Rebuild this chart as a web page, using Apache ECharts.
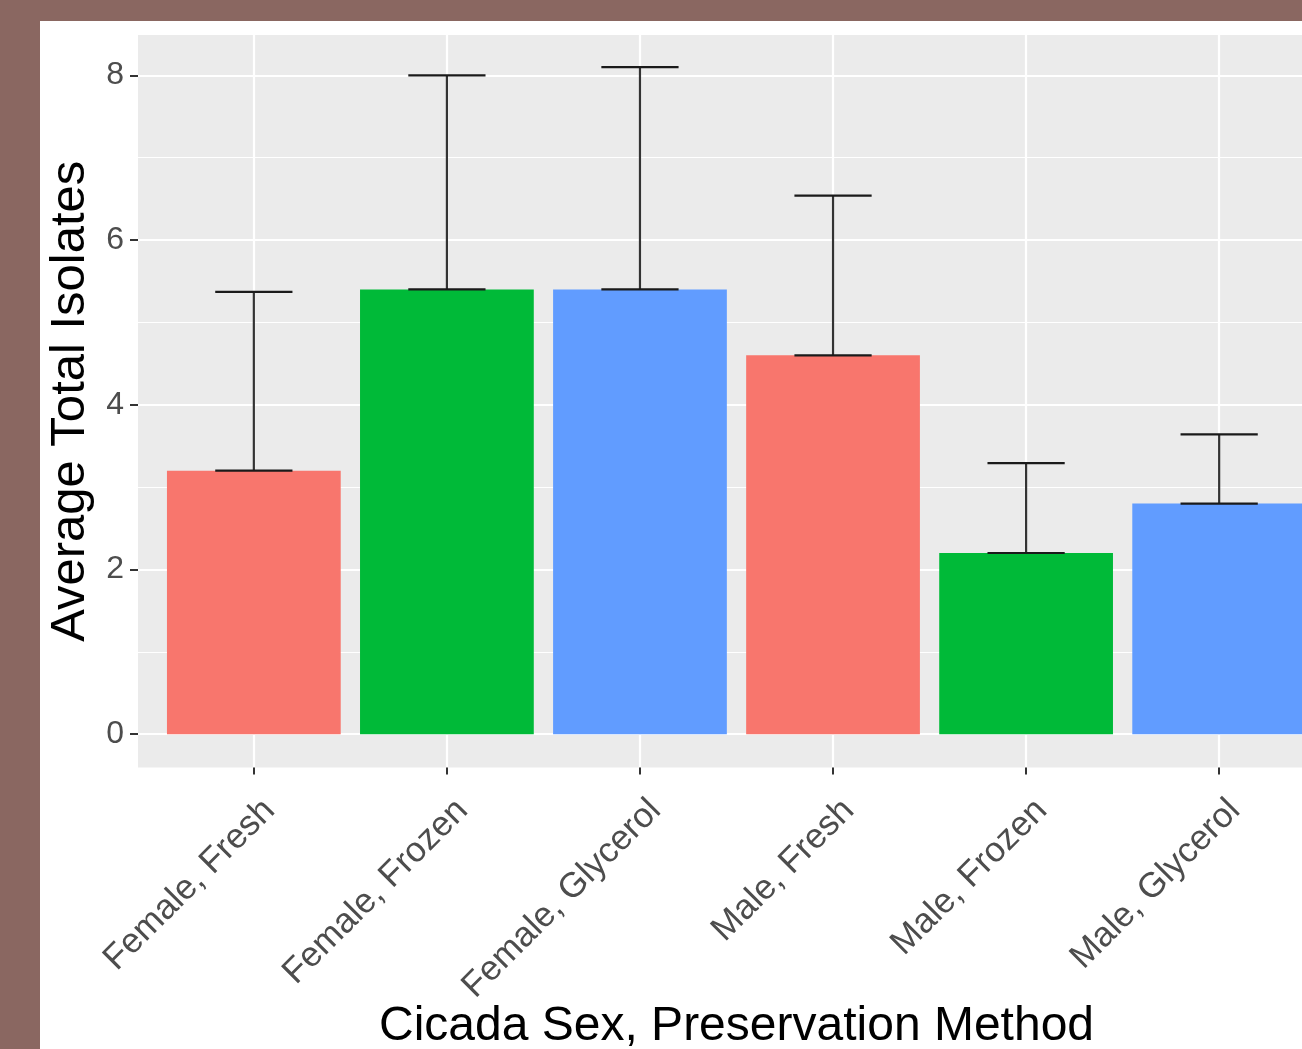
<!DOCTYPE html>
<html><head><meta charset="utf-8">
<script src="https://cdn.jsdelivr.net/npm/echarts@6/dist/echarts.min.js"></script>
<style>
html,body{margin:0;padding:0;width:1302px;height:1049px;overflow:hidden;background:#8A6761;}
#panel{position:absolute;left:40px;top:21px;width:1262px;height:1028px;background:#ffffff;}
#chart{position:absolute;left:0;top:0;width:1335px;height:1049px;}
</style></head><body>
<div id="panel"></div><div id="chart"></div>
<script>
const categories = ['Female, Fresh','Female, Frozen','Female, Glycerol','Male, Fresh','Male, Frozen','Male, Glycerol'];
const means = [3.2, 5.4, 5.4, 4.6, 2.2, 2.8];
const errors = [2.17, 2.6, 2.7, 1.94, 1.09, 0.84];
const barColors = ['#F8766D','#00BA38','#619CFF','#F8766D','#00BA38','#619CFF'];
const yMajorTicks = [0, 2, 4, 6, 8];
const yMinorTicks = [1, 3, 5, 7];
const xTitle = 'Cicada Sex, Preservation Method';
const yTitle = 'Average Total Isolates';

const FONT = "'Liberation Sans', Arial, Helvetica, sans-serif";
const positions = categories.map((c, i) => i + 1);
const Y_MIN = -0.405, Y_MAX = 8.49;

const chart = echarts.init(document.getElementById('chart'), null, {renderer: 'canvas'});
chart.setOption({
  backgroundColor: 'transparent',
  animation: false,
  grid: {left: 138, right: 0, top: 35, bottom: 281.5, show: true, backgroundColor: '#EBEBEB', borderWidth: 0,
         containLabel: false, outerBoundsMode: 'none'},
  xAxis: {
    type: 'value', min: 0.4, max: 6.6,
    axisLine: {show: false, onZero: false},
    axisTick: {show: true, length: 7, customValues: positions, lineStyle: {color: '#333333', width: 2}},
    axisLabel: {
      customValues: positions, rotate: 45, fontSize: 35, fontFamily: FONT, color: '#4D4D4D',
      align: 'right', verticalAlign: 'top', lineHeight: 36, padding: [4, 0, 0, 0], margin: 22,
      formatter: v => categories[Math.round(v) - 1] || ''
    },
    splitLine: {show: true, lineStyle: {color: '#FFFFFF', width: 2.2}},
    name: xTitle, nameLocation: 'middle', nameGap: 235, nameMoveOverlap: false,
    nameTextStyle: {fontSize: 48, fontFamily: FONT, color: '#000000', lineHeight: 48}
  },
  yAxis: [{
    type: 'value', min: Y_MIN, max: Y_MAX,
    axisLine: {show: false, onZero: false},
    axisTick: {show: true, length: 8, customValues: yMajorTicks, lineStyle: {color: '#333333', width: 2}},
    axisLabel: {customValues: yMajorTicks, fontSize: 32, fontFamily: FONT, color: '#4D4D4D', margin: 14},
    splitLine: {show: true, lineStyle: {color: '#FFFFFF', width: 2.2}},
    name: yTitle, nameLocation: 'middle', nameGap: 37,
    nameTextStyle: {fontSize: 49, fontFamily: FONT, color: '#000000', lineHeight: 49}
  }, {
    type: 'value', min: Y_MIN, max: Y_MAX, position: 'left',
    axisLine: {show: false, onZero: false},
    axisTick: {show: false, customValues: yMinorTicks},
    axisLabel: {show: false, customValues: yMinorTicks},
    splitLine: {show: true, lineStyle: {color: '#FFFFFF', width: 1.1}}
  }],
  series: [{
    type: 'bar', xAxisIndex: 0, yAxisIndex: 0, barWidth: '90%', z: 2,
    data: means.map((m, i) => ({value: [positions[i], m], itemStyle: {color: barColors[i]}}))
  }, {
    type: 'custom', xAxisIndex: 0, yAxisIndex: 0, z: 3, silent: true,
    data: means.map((m, i) => [positions[i], m, m + errors[i]]),
    renderItem: function (params, api) {
      const x = api.value(0), lo = api.value(1), hi = api.value(2);
      const pLo = api.coord([x, lo]), pHi = api.coord([x, hi]);
      const hw = api.size([0.2, 0])[0];
      const st = {stroke: '#1A1A1A', lineWidth: 2.2};
      return {type: 'group', children: [
        {type: 'line', shape: {x1: pLo[0], y1: pLo[1], x2: pHi[0], y2: pHi[1]}, style: {stroke: '#333333', lineWidth: 2.2}},
        {type: 'line', shape: {x1: pHi[0] - hw, y1: pHi[1], x2: pHi[0] + hw, y2: pHi[1]}, style: st},
        {type: 'line', shape: {x1: pLo[0] - hw, y1: pLo[1], x2: pLo[0] + hw, y2: pLo[1]}, style: st}
      ]};
    }
  }]
});
</script></body></html>
